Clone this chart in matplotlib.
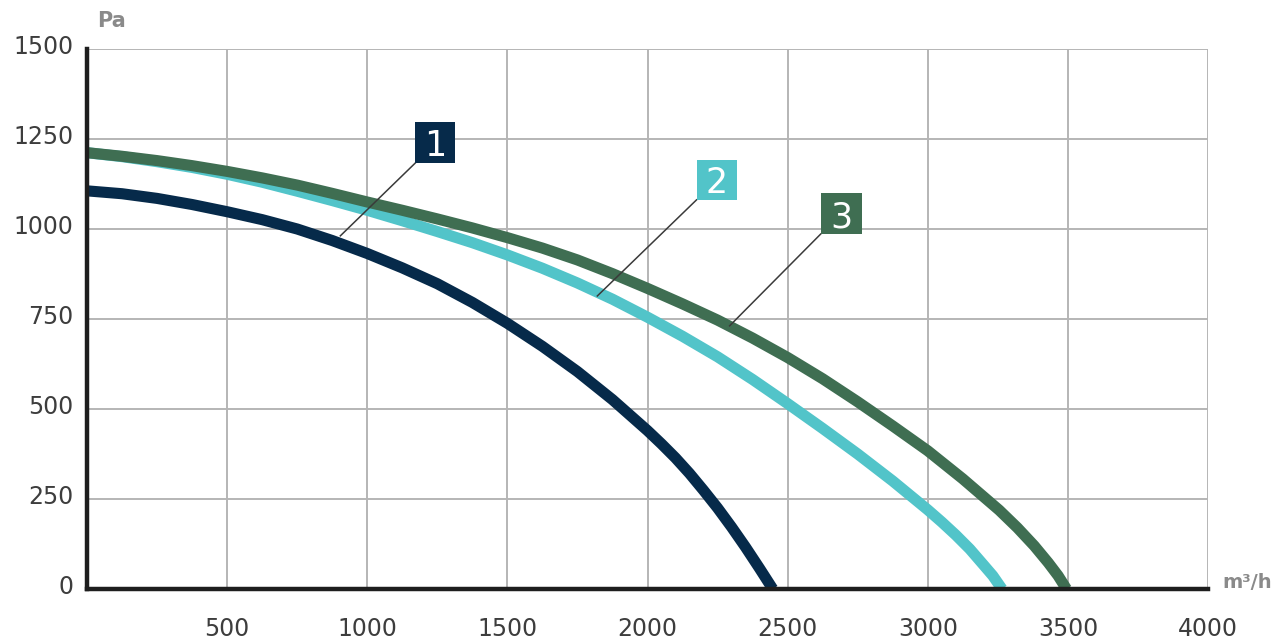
import matplotlib
matplotlib.use("Agg")
import matplotlib.pyplot as plt
from matplotlib.patches import Rectangle
from matplotlib.transforms import ScaledTranslation

# ---- data ----
x1 = [0, 125, 250, 375, 500, 625, 750, 875, 1000, 1125, 1250, 1375, 1500, 1625, 1750,
      1875, 2000, 2050, 2100, 2150, 2200, 2250, 2300, 2350, 2400, 2447]
y1 = [1106, 1098, 1085, 1068, 1048, 1026, 1000, 968, 932, 892, 848, 796, 738, 674, 604,
      526, 440, 403, 364, 321, 274, 225, 172, 116, 57, 0]

x2 = [0, 125, 250, 375, 500, 625, 750, 875, 1000, 1125, 1250, 1375, 1500, 1625, 1750,
      1875, 2000, 2125, 2250, 2375, 2500, 2625, 2750, 2875, 3000, 3050, 3100, 3150, 3200,
      3232, 3265]
y2 = [1212, 1201, 1187, 1171, 1152, 1130, 1105, 1079, 1052, 1023, 993, 962, 928, 891, 850,
      805, 755, 702, 645, 582, 515, 446, 375, 300, 220, 186, 150, 111, 66, 37, 0]

x3 = [0, 125, 250, 375, 500, 625, 750, 875, 1000, 1125, 1250, 1375, 1500, 1625, 1750,
      1875, 2000, 2125, 2250, 2375, 2500, 2625, 2750, 2875, 3000, 3125, 3255, 3320, 3380,
      3430, 3465, 3495]
y3 = [1212, 1202, 1190, 1176, 1160, 1142, 1122, 1099, 1075, 1052, 1028, 1003, 976, 947, 914,
      876, 835, 792, 747, 697, 643, 584, 520, 453, 384, 306, 219, 170, 120, 73, 37, 0]

curve_labels = ["1", "2", "3"]
# label box corners (data coords): (x_left, y_bottom, x_right, y_top)
label_box = [(1171, 1183, 1314, 1297), (2175, 1081, 2321, 1192), (2618, 986, 2764, 1100)]
leader_end = [(904, 981), (1821, 814), (2293, 731)]

xticks = [500, 1000, 1500, 2000, 2500, 3000, 3500, 4000]
yticks = [0, 250, 500, 750, 1000, 1250, 1500]

colors = ["#062a4a", "#52c4c9", "#3f6e52"]

plt.rcParams['font.family'] = ['DejaVu Sans']

fig = plt.figure(figsize=(12.88, 6.41), dpi=100)
ax = fig.add_axes([87/1288, 1 - 589/641, 1121/1288, 540/641])
ax.set_xlim(0, 4000)
ax.set_ylim(0, 1500)

# grid
for xv in xticks:
    ax.axvline(xv, color="#b5b5b5", lw=1.4, zorder=1)
for yv in yticks[1:]:
    ax.axhline(yv, color="#b5b5b5", lw=1.4, zorder=1)

for xs, ys, c, z in zip([x1, x2, x3], [y1, y2, y3], colors, [3, 4, 5]):
    ax.plot(xs, ys, color=c, lw=8, solid_capstyle="butt", solid_joinstyle="round", zorder=z)

# leaders and numbered boxes
for lab, b, e, c in zip(curve_labels, label_box, leader_end, colors):
    ax.plot([b[0], e[0]], [b[1], e[1]], color="#3a3a3a", lw=1.1, zorder=6)
    ax.add_patch(Rectangle((b[0], b[1]), b[2] - b[0], b[3] - b[1], fc=c, ec="none", zorder=7))
    ax.text((b[0] + b[2]) / 2, (b[1] + b[3]) / 2, lab, color="white", fontsize=25,
            ha="center", va="center_baseline", zorder=8)

# spines
for sp in ["top", "right"]:
    ax.spines[sp].set_visible(False)
for sp in ["left", "bottom"]:
    ax.spines[sp].set_linewidth(3.2)
    ax.spines[sp].set_color("#1e1e1e")
    ax.spines[sp].set_zorder(9)

ax.set_xticks(xticks)
ax.set_xticklabels([str(v) for v in xticks])
ax.set_yticks(yticks)
ax.set_yticklabels([str(v) for v in yticks])
ax.tick_params(axis="both", length=0, labelsize=17, labelcolor="#3d3d3d")
ax.tick_params(axis="x", pad=20)
ax.tick_params(axis="y", pad=10)
for lbl in ax.get_yticklabels():
    lbl.set_transform(lbl.get_transform() + ScaledTranslation(0, 3/72, fig.dpi_scale_trans))

fig.text(97/1288, 1 - 21/641, "Pa", fontsize=15, fontweight="bold", color="#8a8a8a",
         ha="left", va="center")
fig.text(1222/1288, 1 - 582/641, "m³/h", fontsize=14, fontweight="bold", color="#8a8a8a",
         ha="left", va="center")

fig.savefig("out.png", dpi=100)
